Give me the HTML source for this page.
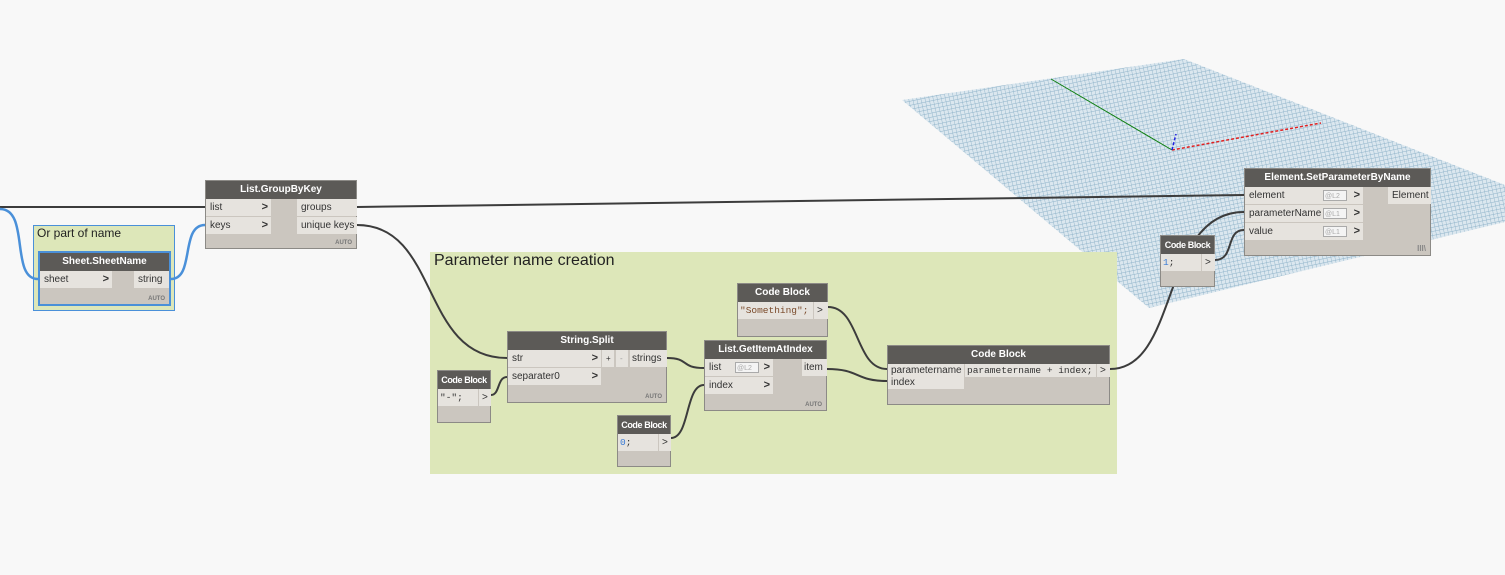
<!DOCTYPE html>
<html><head><meta charset="utf-8"><style>
body{margin:0;width:1505px;height:575px;background:#f8f8f8;position:relative;overflow:hidden;font-family:"Liberation Sans",sans-serif;}
.a{position:absolute;box-sizing:border-box;}
.grp{background:#dde7b9;}
.node{position:absolute;box-sizing:border-box;background:#cbc6bf;border:1px solid #8c8a86;white-space:nowrap;}
.hd{position:absolute;left:0;right:0;top:0;height:18px;background:#5c5a57;color:#fff;font-weight:bold;font-size:10px;text-align:center;line-height:18px;white-space:nowrap;overflow:hidden;}
.sm .hd{font-size:9px;letter-spacing:-0.4px;}
.row{position:absolute;height:17px;background:#e6e3de;font-size:10px;line-height:17px;color:#333;padding-left:4px;box-sizing:border-box;white-space:nowrap;overflow:hidden;}
.arr{position:absolute;right:3px;top:0;font-weight:bold;font-size:11px;color:#333;}
.auto{position:absolute;right:4px;bottom:2px;font-size:6px;font-weight:bold;color:#777;}
.code{font-family:"Liberation Mono",monospace;font-size:9.5px;padding-left:2px;}
.lac{position:absolute;top:3px;height:11px;width:24px;border:1px solid #aaa;background:#f4f4f4;font-size:7px;line-height:11px;color:#aaa;padding-left:1px;box-sizing:border-box;}
</style></head><body>
<svg class="a" style="left:0;top:0" width="1505" height="575">
<defs><pattern id="p" width="4" height="4" patternUnits="userSpaceOnUse" patternTransform="rotate(-12)"><rect width="4" height="4" fill="#dbe7ef"/><path d="M0 0H4M0 0V4" stroke="#8fb3c9" stroke-width="0.9"/></pattern></defs>
<polygon points="902,100 1184,59 1505,185 1505,222 1149,308" fill="url(#p)"/>
<line x1="1051" y1="79" x2="1172" y2="150" stroke="#108010" stroke-width="1"/>
<line x1="1172" y1="150" x2="1321" y2="123" stroke="#e02020" stroke-width="1.5" stroke-dasharray="3,2"/>
<line x1="1172" y1="150" x2="1176" y2="134" stroke="#2020e0" stroke-width="1.5" stroke-dasharray="3,2"/>
</svg>
<div class="a grp" style="left:430px;top:252px;width:687px;height:222px;"><div style="position:absolute;left:4px;top:0;font-size:16px;color:#222;">Parameter name creation</div></div>
<div class="a grp" style="left:33px;top:225px;width:142px;height:86px;border:1px solid #4a90d9;"><div style="position:absolute;left:3px;top:0;font-size:12px;color:#222">Or part of name</div></div>
<svg class="a" style="left:0;top:0" width="1505" height="575" fill="none">
<g stroke="#3c3c3c" stroke-width="2">
<path d="M0 207 L205 207"/>
<path d="M357 207 L1244 195"/>
<path d="M357 225 C440 225,420 358,507 358"/>
<path d="M491 395 C500 395,497 377,507 377"/>
<path d="M667 358 C690 358,680 368,704 368"/>
<path d="M671 438 C690 438,685 385,704 385"/>
<path d="M828 307 C860 307,855 369,887 369"/>
<path d="M827 369 C860 369,855 381,887 381"/>
<path d="M1110 369 C1180 369,1160 212,1244 212"/>
<path d="M1215 260 C1235 260,1225 230,1244 230"/>
</g>
<g stroke="#4a90d9" stroke-width="2.5">
<path d="M0 209 C30 209,10 279,38 279"/>
<path d="M171 279 C195 279,180 225,205 225"/>
</g>
</svg>

<div class="node" style="left:38px;top:251px;width:133px;height:55px;border:2px solid #4a90d9;">
<div class="hd">Sheet.SheetName</div>
<div class="row" style="left:0;top:18px;width:72px;">sheet<span class="arr">&gt;</span></div>
<div class="row" style="left:94px;top:18px;width:35px;">string</div>
<div class="auto">AUTO</div></div>

<div class="node" style="left:205px;top:180px;width:152px;height:69px;">
<div class="hd">List.GroupByKey</div>
<div class="row" style="left:0;top:18px;width:65px;">list<span class="arr">&gt;</span></div>
<div class="row" style="left:0;top:36px;width:65px;">keys<span class="arr">&gt;</span></div>
<div class="row" style="left:91px;top:18px;width:60px;">groups</div>
<div class="row" style="left:91px;top:36px;width:60px;">unique keys</div>
<div class="auto">AUTO</div></div>

<div class="node sm" style="left:437px;top:370px;width:54px;height:53px;">
<div class="hd">Code Block</div>
<div class="row code" style="left:0;top:18px;width:40px;">"-";</div>
<div class="row" style="left:41px;top:18px;width:12px;padding-left:3px;">&gt;</div></div>

<div class="node" style="left:507px;top:331px;width:160px;height:72px;">
<div class="hd">String.Split</div>
<div class="row" style="left:0;top:18px;width:93px;">str<span class="arr">&gt;</span></div>
<div class="row" style="left:0;top:36px;width:93px;">separater0<span class="arr">&gt;</span></div>
<div class="row" style="left:94px;top:18px;width:12px;font-size:8px;">+</div>
<div class="row" style="left:108px;top:18px;width:12px;font-size:8px;color:#999">-</div>
<div class="row" style="left:122px;top:18px;width:37px;padding-left:2px;">strings</div>
<div class="auto">AUTO</div></div>

<div class="node sm" style="left:617px;top:415px;width:54px;height:52px;">
<div class="hd">Code Block</div>
<div class="row code" style="left:0;top:18px;width:40px;color:#3a7bd5">0<span style="color:#333">;</span></div>
<div class="row" style="left:41px;top:18px;width:12px;padding-left:3px;">&gt;</div></div>

<div class="node" style="left:704px;top:340px;width:123px;height:71px;">
<div class="hd">List.GetItemAtIndex</div>
<div class="row" style="left:0;top:18px;width:68px;">list<div class="lac" style="left:30px">@L2</div><span class="arr">&gt;</span></div>
<div class="row" style="left:0;top:36px;width:68px;">index<span class="arr">&gt;</span></div>
<div class="row" style="left:97px;top:18px;width:25px;padding-left:2px;">item</div>
<div class="auto">AUTO</div></div>

<div class="node" style="left:737px;top:283px;width:91px;height:54px;">
<div class="hd">Code Block</div>
<div class="row code" style="left:0;top:18px;width:75px;color:#7a4a2a">"Something";</div>
<div class="row" style="left:76px;top:18px;width:14px;padding-left:3px;">&gt;</div></div>

<div class="node" style="left:887px;top:345px;width:223px;height:60px;">
<div class="hd">Code Block</div>
<div class="row" style="left:0;top:18px;width:76px;height:13px;line-height:13px;padding-left:3px;">parametername</div>
<div class="row" style="left:0;top:31px;width:76px;height:12px;line-height:12px;padding-left:3px;">index</div>
<div class="row code" style="left:77px;top:18px;width:131px;height:13px;line-height:13px;">parametername + index;</div>
<div class="row" style="left:209px;top:18px;width:13px;height:13px;line-height:13px;padding-left:3px;">&gt;</div></div>

<div class="node sm" style="left:1160px;top:235px;width:55px;height:52px;">
<div class="hd">Code Block</div>
<div class="row code" style="left:0;top:18px;width:40px;color:#3a7bd5">1<span style="color:#333">;</span></div>
<div class="row" style="left:41px;top:18px;width:13px;padding-left:3px;">&gt;</div></div>

<div class="node" style="left:1244px;top:168px;width:187px;height:88px;">
<div class="hd">Element.SetParameterByName</div>
<div class="row" style="left:0;top:18px;width:118px;">element<div class="lac" style="left:78px">@L2</div><span class="arr">&gt;</span></div>
<div class="row" style="left:0;top:36px;width:118px;">parameterName<div class="lac" style="left:78px">@L1</div><span class="arr">&gt;</span></div>
<div class="row" style="left:0;top:54px;width:118px;">value<div class="lac" style="left:78px">@L1</div><span class="arr">&gt;</span></div>
<div class="row" style="left:143px;top:18px;width:43px;">Element</div>
<div class="auto" style="font-size:8px;color:#888">III\</div></div>
</body></html>
